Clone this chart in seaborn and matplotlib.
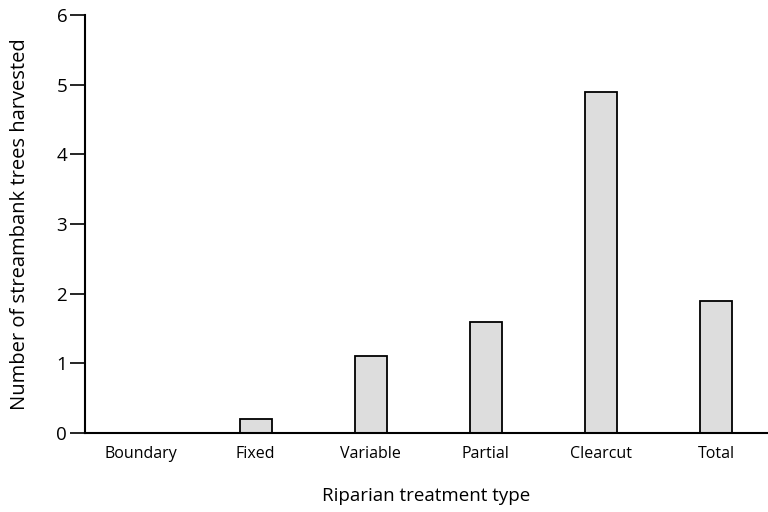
import pandas as pd
import matplotlib.pyplot as plt
import seaborn as sns

treatments = ["Boundary", "Fixed", "Variable", "Partial", "Clearcut", "Total"]
trees_harvested = [0.0, 0.2, 1.1, 1.6, 4.9, 1.9]
y_ticks = [0, 1, 2, 3, 4, 5, 6]

df = pd.DataFrame({"Treatment": treatments, "Trees": trees_harvested})

sns.set_style("white")
plt.rcParams["font.family"] = ["Open Sans", "DejaVu Sans"]
plt.rcParams["text.color"] = "black"
plt.rcParams["axes.labelcolor"] = "black"
plt.rcParams["xtick.color"] = "black"
plt.rcParams["ytick.color"] = "black"

fig = plt.figure(figsize=(7.68, 5.12), dpi=100)
ax = fig.add_axes([0.111, 0.154, 0.889, 0.817])

sns.barplot(data=df, x="Treatment", y="Trees", color="#dddddd",
            edgecolor="black", linewidth=1.3, width=0.28, ax=ax)

ax.set_xlim(-0.48, 5.45)
ax.set_ylim(0, 6)
ax.set_yticks(y_ticks)
ax.set_yticklabels([str(t) for t in y_ticks], fontsize=13.5)
ax.tick_params(axis="x", length=0, labelsize=11.5, pad=9)
ax.tick_params(axis="y", direction="out", length=11, width=1.2, left=True, pad=2)

sns.despine(ax=ax)
for s in ["left", "bottom"]:
    ax.spines[s].set_linewidth(1.5)
    ax.spines[s].set_color("black")

ax.set_xlabel("Riparian treatment type", fontsize=13.5, labelpad=18)
ax.set_ylabel("Number of streambank trees harvested", fontsize=14.5, labelpad=19)

fig.savefig("out.png", dpi=100)
